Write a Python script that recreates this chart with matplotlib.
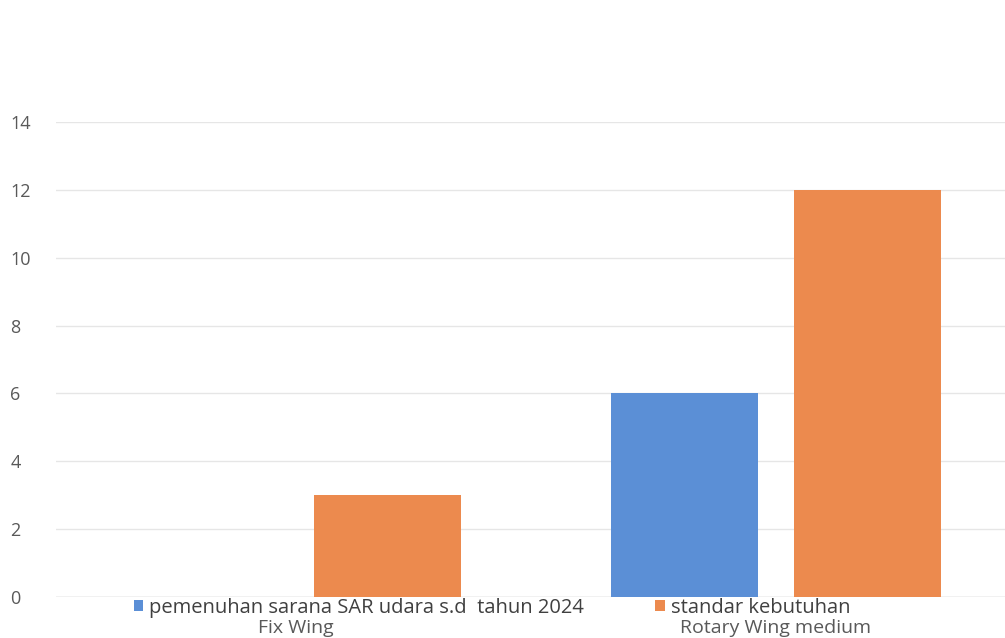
import matplotlib
matplotlib.use("Agg")
import matplotlib.pyplot as plt
import numpy as np

categories = ["Fix Wing", "Rotary Wing medium"]
series_names = ["pemenuhan sarana SAR udara s.d  tahun 2024", "standar kebutuhan"]
pemenuhan = [0, 6]
standar = [3, 12]
yticks = [0, 2, 4, 6, 8, 10, 12, 14]

plt.rcParams['font.family'] = ['Open Sans', 'DejaVu Sans']

W, H = 1005, 638
fig = plt.figure(figsize=(W/100, H/100), dpi=100)
ax = fig.add_axes([56/W, (H-597)/H, (1005-56)/W, (597-122)/H])

x = np.arange(len(categories))
bw = 0.306
off = 0.19
b1 = ax.bar(x - off, pemenuhan, bw, color="#5b8fd6", label=series_names[0], zorder=3)
b2 = ax.bar(x + off, standar, bw, color="#ec8a4e", label=series_names[1], zorder=3)

ax.set_xlim(-0.5, 1.477)
ax.set_ylim(0, 14)
for s in ax.spines.values():
    s.set_visible(False)
ax.yaxis.grid(True, color="#e6e6e6", linewidth=1, zorder=0)
ax.axhline(0, color="#d0d0d0", linewidth=1, zorder=2)

ax.set_yticks(yticks)
ax.set_yticklabels([str(v) for v in yticks], fontsize=13, color="#595959", ha='left')
ax.tick_params(axis='y', length=0, pad=33)

ax.set_xticks(x)
ax.set_xticklabels(categories, fontsize=14, color="#595959")
ax.tick_params(axis='x', length=0, pad=15.5)

leg = fig.legend(handles=[b1, b2], labels=series_names, loc='center left',
                 bbox_to_anchor=(134/W, 1 - 608/H), ncol=2, frameon=False,
                 fontsize=14.5, handlelength=0.45, handleheight=0.45, handletextpad=0.3,
                 columnspacing=3.55, borderpad=0, borderaxespad=0)
for t in leg.get_texts():
    t.set_color("#404040")

fig.savefig("out.png", dpi=100)
